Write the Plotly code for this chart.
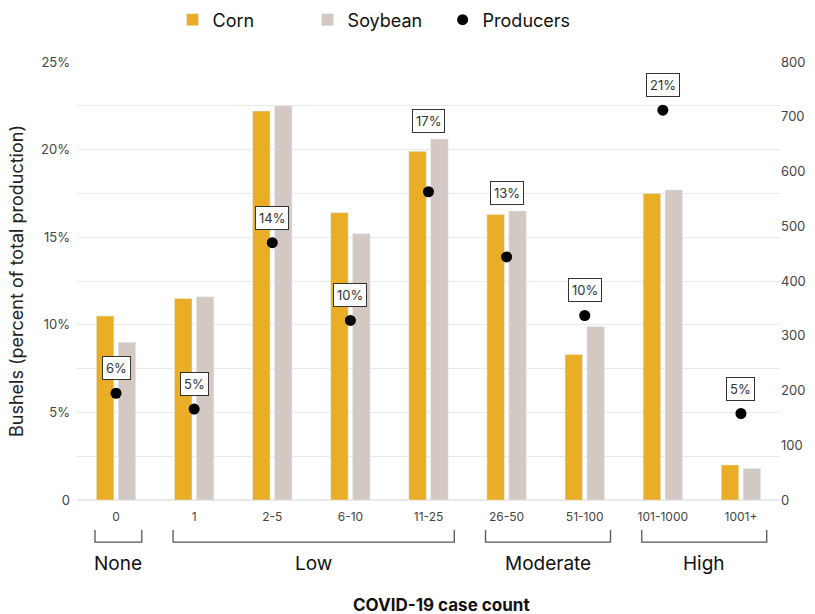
import plotly.graph_objects as go

# Case-count bins and their share of corn/soybean bushels
categories = ["0", "1", "2-5", "6-10", "11-25", "26-50", "51-100", "101-1000", "1001+"]
corn = [10.5, 11.5, 22.2, 16.4, 19.9, 16.3, 8.3, 17.5, 2.0]
soybean = [9.0, 11.6, 22.5, 15.2, 20.6, 16.5, 9.9, 17.7, 1.8]
# Number of producers in each bin (right axis)
producers = [195, 166, 470, 328, 563, 444, 337, 712, 158]

# Severity groups: name, first bin, last bin
groups = [("None", "0", "0"), ("Low", "1", "11-25"),
          ("Moderate", "26-50", "51-100"), ("High", "101-1000", "1001+")]

left_ticks = [0, 2.5, 5, 7.5, 10, 12.5, 15, 17.5, 20, 22.5, 25]
left_ticktext = ["0", "", "5%", "", "10%", "", "15%", "", "20%", "", "25%"]
right_ticks = [0, 100, 200, 300, 400, 500, 600, 700, 800]

CORN = "#E9AE26"
SOY = "#D4C9C2"
FONT = "Inter, Roboto, sans-serif"

total = sum(producers)
shares = [round(p / total * 100) for p in producers]

fig = go.Figure()
fig.add_bar(x=categories, y=corn, name="Corn", marker_color=CORN, yaxis="y")
fig.add_bar(x=categories, y=soybean, name="Soybean", marker_color=SOY, yaxis="y")
fig.add_scatter(x=categories, y=producers, name="Producers", mode="markers",
                marker=dict(color="black", size=11), yaxis="y2")

# Share-of-producers labels; two of them sit above their bars
above_bars = {"11-25", "26-50"}
for cat, p, s, c, sb in zip(categories, producers, shares, corn, soybean):
    if cat in above_bars:
        ann = dict(x=cat, y=max(c, sb), yref="y", yshift=18)
    else:
        ann = dict(x=cat, y=p, yref="y2", yshift=25)
    fig.add_annotation(**ann, text=f"{s}%", showarrow=False, xref="x",
                       font=dict(size=13, color="#333", family=FONT),
                       bgcolor="white", bordercolor="#333", borderwidth=1,
                       borderpad=3)

# Group brackets and names below the category labels
idx = {c: i for i, c in enumerate(categories)}
y_top, y_line = -0.0685, -0.096
for name, first, last in groups:
    x0 = idx[first] - 0.27
    x1 = idx[last] + 0.33
    fig.add_shape(type="path", xref="x", yref="paper",
                  path=f"M {x0},{y_top} L {x0},{y_line} L {x1},{y_line} L {x1},{y_top}",
                  line=dict(color="#555", width=1.3))
    fig.add_annotation(x=(x0 + x1) / 2, y=-0.145, xref="x", yref="paper",
                       text=name, showarrow=False, yanchor="middle",
                       font=dict(size=19, color="#111", family=FONT))

fig.add_annotation(x=0.519, y=-0.24, xref="paper", yref="paper",
                   text="<b>COVID-19 case count</b>", showarrow=False,
                   yanchor="middle",
                   font=dict(size=17, color="#111", family=FONT))

fig.update_layout(
    width=815, height=614,
    margin=dict(l=77, r=35, t=62, b=114, autoexpand=False),
    paper_bgcolor="white", plot_bgcolor="white",
    barmode="group", bargap=0.44, bargroupgap=0.2,
    font=dict(family=FONT, color="#444"),
    legend=dict(orientation="h", x=0.136, xanchor="left", y=1.096, yanchor="middle",
                font=dict(size=18, color="#111", family=FONT),
                entrywidth=90, itemwidth=30, traceorder="normal"),
    xaxis=dict(type="category", showgrid=False, showline=False, ticks="",
               tickfont=dict(size=12, color="#444"), ticklabelstandoff=8,
               range=[-0.5, len(categories) - 0.5]),
    yaxis=dict(range=[0, 25], tickvals=left_ticks, ticktext=left_ticktext,
               showgrid=True, gridcolor="#E9E9E9", gridwidth=1,
               zeroline=True, zerolinecolor="#E9E9E9",
               tickfont=dict(size=13, color="#444"), ticklabelstandoff=6,
               title=dict(text="Bushels (percent of total production)",
                          font=dict(size=18, color="#222"), standoff=12)),
    yaxis2=dict(range=[0, 800], tickvals=right_ticks, overlaying="y", side="right",
                showgrid=False, zeroline=False,
                tickfont=dict(size=13, color="#444")),
)

fig.write_html("out.html")
